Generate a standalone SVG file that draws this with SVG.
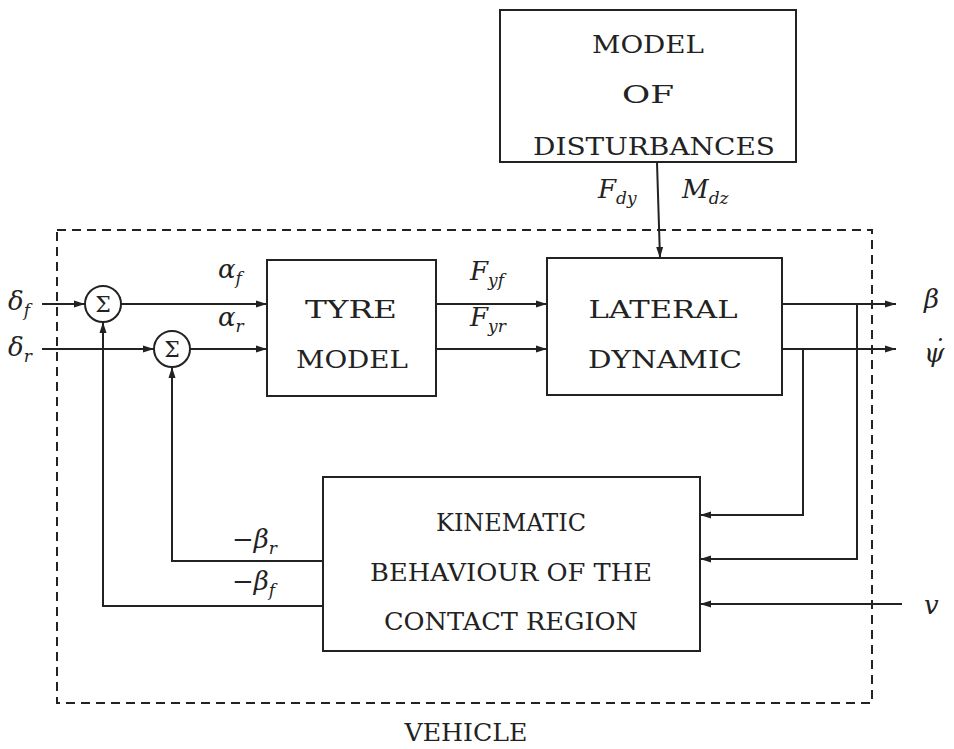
<svg xmlns="http://www.w3.org/2000/svg" width="954" height="749" viewBox="0 0 954 749">
<style>
.box{fill:none;stroke:#222;stroke-width:2}
.ln{fill:none;stroke:#222;stroke-width:2}
.dash{fill:none;stroke:#222;stroke-width:2;stroke-dasharray:9 6}
.t{font-family:"DejaVu Serif","Liberation Serif",serif;font-size:25px;fill:#222;text-anchor:middle}
.m{font-family:"DejaVu Serif","Liberation Serif",serif;font-style:italic;font-size:26px;fill:#222}
.s{font-size:17px}
.sig{font-family:"DejaVu Serif",serif;font-size:22px;fill:#222;text-anchor:middle}
</style>
<defs>
<marker id="ar" markerWidth="12" markerHeight="8" refX="11" refY="4" orient="auto" markerUnits="userSpaceOnUse">
<path d="M0,0.5 L11,4 L0,7.5 z" fill="#222"/>
</marker>
</defs>
<rect width="954" height="749" fill="#fff"/>

<g id="vehicle">
<rect class="dash" x="57" y="230" width="815" height="473"/>
<text class="t" x="466" y="741" textLength="123" lengthAdjust="spacingAndGlyphs">VEHICLE</text>
</g>

<g id="disturbances">
<rect class="box" x="500" y="10" width="296" height="152"/>
<text class="t" x="648" y="53" textLength="112" lengthAdjust="spacingAndGlyphs">MODEL</text>
<text class="t" x="648" y="103" textLength="52" lengthAdjust="spacingAndGlyphs">OF</text>
<text class="t" x="654" y="155" textLength="242" lengthAdjust="spacingAndGlyphs">DISTURBANCES</text>
</g>

<g id="tyre">
<rect class="box" x="267" y="260" width="169" height="136"/>
<text class="t" x="351" y="318" textLength="92" lengthAdjust="spacingAndGlyphs">TYRE</text>
<text class="t" x="352" y="368" textLength="112" lengthAdjust="spacingAndGlyphs">MODEL</text>
</g>

<g id="lateral">
<rect class="box" x="547" y="258" width="235" height="137"/>
<text class="t" x="663" y="318" textLength="149" lengthAdjust="spacingAndGlyphs">LATERAL</text>
<text class="t" x="665" y="368" textLength="154" lengthAdjust="spacingAndGlyphs">DYNAMIC</text>
</g>

<g id="kinematic">
<rect class="box" x="323" y="477" width="377" height="174"/>
<text class="t" x="511" y="531" textLength="150" lengthAdjust="spacingAndGlyphs">KINEMATIC</text>
<text class="t" x="511" y="581" textLength="282" lengthAdjust="spacingAndGlyphs">BEHAVIOUR OF THE</text>
<text class="t" x="511" y="630" textLength="254" lengthAdjust="spacingAndGlyphs">CONTACT REGION</text>
</g>

<g id="sum1">
<circle class="box" cx="103" cy="304" r="18"/>
<text class="sig" x="103" y="312">Σ</text>
</g>
<g id="sum2">
<circle class="box" cx="172" cy="349" r="18"/>
<text class="sig" x="172" y="357">Σ</text>
</g>

<g id="connectors">
<path class="ln" d="M42,304 H85" marker-end="url(#ar)"/>
<path class="ln" d="M121,304 H267" marker-end="url(#ar)"/>
<path class="ln" d="M42,349 H154" marker-end="url(#ar)"/>
<path class="ln" d="M190,349 H267" marker-end="url(#ar)"/>
<path class="ln" d="M436,304 H547" marker-end="url(#ar)"/>
<path class="ln" d="M436,349 H547" marker-end="url(#ar)"/>
<path class="ln" d="M657,162 L660,258" marker-end="url(#ar)"/>
<path class="ln" d="M782,304 H896" marker-end="url(#ar)"/>
<path class="ln" d="M782,349 H896" marker-end="url(#ar)"/>
<path class="ln" d="M857,304 V559 H700" marker-end="url(#ar)"/>
<path class="ln" d="M803,349 V515 H700" marker-end="url(#ar)"/>
<path class="ln" d="M902,604 H700" marker-end="url(#ar)"/>
<path class="ln" d="M323,561 H172 V367" marker-end="url(#ar)"/>
<path class="ln" d="M323,606 H103 V322" marker-end="url(#ar)"/>
</g>

<g id="labels">
<text class="m" x="8" y="310">δ<tspan class="s" dy="6">f</tspan></text>
<text class="m" x="8" y="356">δ<tspan class="s" dy="6">r</tspan></text>
<text class="m" x="218" y="278">α<tspan class="s" dy="6">f</tspan></text>
<text class="m" x="218" y="326">α<tspan class="s" dy="6">r</tspan></text>
<text class="m" x="470" y="280">F<tspan class="s" dy="6">yf</tspan></text>
<text class="m" x="470" y="326">F<tspan class="s" dy="6">yr</tspan></text>
<text class="m" x="598" y="198">F<tspan class="s" dy="6">dy</tspan></text>
<text class="m" x="682" y="198">M<tspan class="s" dy="6">dz</tspan></text>
<text class="m" x="924" y="308">β</text>
<text class="m" x="924" y="362">ψ<tspan dx="-13" dy="-4">˙</tspan></text>
<text class="m" x="924" y="614">v</text>
<text class="m" x="232" y="548">−β<tspan class="s" dy="6">r</tspan></text>
<text class="m" x="232" y="590">−β<tspan class="s" dy="6">f</tspan></text>
</g>
</svg>
